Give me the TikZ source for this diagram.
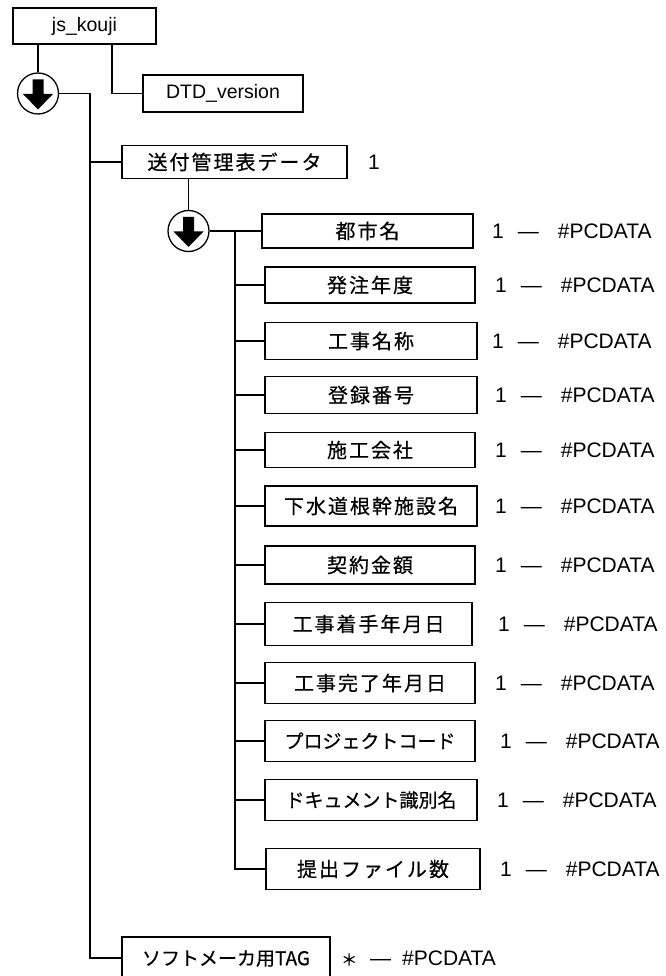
\documentclass[tikz,border=0pt]{standalone}
\usepackage{fontspec}
\setmainfont{Liberation Sans}
\newfontfamily\jpfont[FakeBold=0.5]{Noto Sans CJK JP}
\newfontfamily\jpwide[LetterSpace=10,FakeBold=0.5]{Noto Sans CJK JP}
\usetikzlibrary{calc}
\tikzstyle{elem}=[rectangle, draw=black, line width=1.3pt, fill=white, inner sep=0pt, anchor=center]
\tikzstyle{kanji}=[font=\fontsize{20pt}{23pt}\selectfont\jpwide, text height=17.2pt, text depth=2pt]
\tikzstyle{kana}=[font=\fontsize{19pt}{22pt}\selectfont\jpfont, text height=16.3pt, text depth=1.9pt]
\tikzstyle{latn}=[font=\fontsize{19.5pt}{22pt}\selectfont, text height=14pt, text depth=3.9pt]
\tikzstyle{seq}=[circle, draw=black, line width=1.3pt, fill=white, minimum size=41pt, inner sep=0pt,
  path picture={\fill[black] (path picture bounding box.center) ++(-5.5pt,14pt) -- ++(11pt,0pt) -- ++(0pt,-14.5pt)
    -- ++(9.5pt,0pt) -- ++(-15pt,-15.5pt) -- ++(-15pt,15.5pt) -- ++(9.5pt,0pt) -- cycle;}]
\tikzstyle{occ}=[anchor=west, inner sep=0pt, font=\fontsize{21pt}{24pt}\selectfont, text height=15.1pt, text depth=0pt]
\tikzstyle{link}=[line width=1.3pt]
\newcommand{\pcdata}[1]{#1\hspace{14pt}—\hspace{19pt}\#PCDATA}

\begin{document}
\begin{tikzpicture}[x=1pt,y=-1pt]
	\useasboundingbox (0,0) rectangle (665,976);

	% root and its attribute
	\node[elem, latn, minimum width=143pt, minimum height=36pt](root) at (84.5,26) {js\_kouji};
	\node[elem, latn, minimum width=160pt, minimum height=37pt](dtd) at (223,93.5) {DTD\_version};
	\node[seq](seq1) at (38,93.5) {};
	\coordinate (trunk1) at (90,93.5);

	\node[elem, kanji, minimum width=225pt, minimum height=33pt](sofu) at (234.5,162) {送付管理表データ};
	\node[occ] at (368,162) {1};
	\node[seq](seq2) at (188.5,231) {};
	\coordinate (trunk2) at (235,231);

	% children of the transmittal table
	\node[elem, kanji, minimum width=211pt, minimum height=34pt](toshi) at (367.5,231) {都市名};
	\node[elem, kanji, minimum width=210pt, minimum height=36pt](hachu) at (370,285) {発注年度};
	\node[elem, kanji, minimum width=212pt, minimum height=37pt](koji) at (371,341) {工事名称};
	\node[elem, kanji, minimum width=212pt, minimum height=37pt](toroku) at (371,395) {登録番号};
	\node[elem, kanji, minimum width=210pt, minimum height=35pt](seko) at (370,450) {施工会社};
	\node[elem, kanji, minimum width=212pt, minimum height=40pt](gesui) at (371,506) {下水道根幹施設名};
	\node[elem, kanji, minimum width=210pt, minimum height=38pt](keiyaku) at (370,565) {契約金額};
	\node[elem, kanji, minimum width=207pt, minimum height=43pt](chakushu) at (368.5,624) {工事着手年月日};
	\node[elem, kanji, minimum width=210pt, minimum height=41pt](kanryo) at (370,683) {工事完了年月日};
	\node[elem, kana, minimum width=210pt, minimum height=41pt](project) at (370,741) {プロジェクトコード};
	\node[elem, kana, minimum width=212pt, minimum height=41pt](document) at (371,800) {ドキュメント識別名};
	\node[elem, kanji, minimum width=214pt, minimum height=41pt](teishutsu) at (373,869) {提出ファイル数};

	\node[occ] at (492,231) {\pcdata{1}};
	\node[occ] at (495,285) {\pcdata{1}};
	\node[occ] at (492,341) {\pcdata{1}};
	\node[occ] at (495,395) {\pcdata{1}};
	\node[occ] at (495,450) {\pcdata{1}};
	\node[occ] at (495,506) {\pcdata{1}};
	\node[occ] at (495,565) {\pcdata{1}};
	\node[occ] at (498,624) {\pcdata{1}};
	\node[occ] at (495,683) {\pcdata{1}};
	\node[occ] at (500,741) {\pcdata{1}};
	\node[occ] at (497,800) {\pcdata{1}};
	\node[occ] at (500,869) {\pcdata{1}};

	\node[elem, kana, minimum width=208pt, minimum height=42pt](soft) at (226,958) {ソフトメーカ用TAG};
	\node[occ] at (341,958) {{\fontsize{16pt}{18pt}\selectfont\jpfont ＊}\hspace{13pt}—\hspace{11pt}\#PCDATA};

	% connectors
	\draw[link] (seq1 |- root.south) -- (seq1.north);
	\draw[link] ([xshift=27.5pt]root.south) |- (dtd.west);
	\draw[link] (seq1.east) -- (trunk1) |- (soft.west);
	\draw[link] (trunk1 |- sofu.west) -- (sofu.west);
	\draw[link] (seq2 |- sofu.south) -- (seq2.north);
	\draw[link] (seq2.east) -- (toshi.west);
	\draw[link] (trunk2) |- (teishutsu.west);
	\draw[link] (trunk2 |- hachu.west) -- (hachu.west);
	\draw[link] (trunk2 |- koji.west) -- (koji.west);
	\draw[link] (trunk2 |- toroku.west) -- (toroku.west);
	\draw[link] (trunk2 |- seko.west) -- (seko.west);
	\draw[link] (trunk2 |- gesui.west) -- (gesui.west);
	\draw[link] (trunk2 |- keiyaku.west) -- (keiyaku.west);
	\draw[link] (trunk2 |- chakushu.west) -- (chakushu.west);
	\draw[link] (trunk2 |- kanryo.west) -- (kanryo.west);
	\draw[link] (trunk2 |- project.west) -- (project.west);
	\draw[link] (trunk2 |- document.west) -- (document.west);

\end{tikzpicture}
\end{document}
